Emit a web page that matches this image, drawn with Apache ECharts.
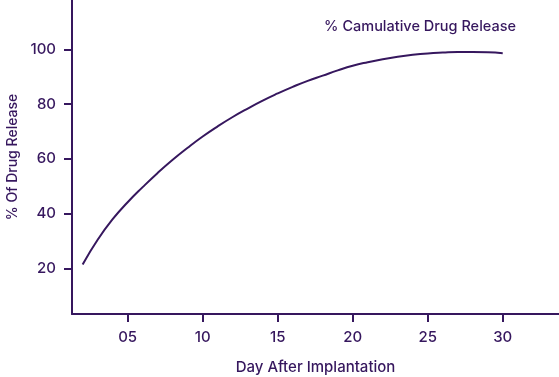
<!DOCTYPE html>
<html>
<head>
<meta charset="utf-8">
<script src="https://cdn.jsdelivr.net/npm/echarts@6/dist/echarts.min.js"></script>
<style>
  html, body { margin: 0; padding: 0; background: #fff; }
  #chart { width: 559px; height: 377px; }
</style>
</head>
<body>
<div id="chart"></div>
<script>
// days after implantation
var days = [2, 3, 4, 5, 6, 7, 8, 9, 10, 11, 12, 13, 14, 15, 16,
  17, 18, 19, 20, 21, 22, 23, 24, 25, 26, 27, 28, 29, 30];
// % cumulative drug release
var release = [21.5, 30.5, 38.0, 44.2, 49.7, 54.9, 59.7, 64.1, 68.2, 71.9, 75.3, 78.4, 81.3, 83.9, 86.3,
  88.5, 90.4, 92.3, 94.0, 95.3, 96.4, 97.3, 98.0, 98.5, 98.8, 99.0, 99.0, 98.9, 98.6];
var xTicks = [5, 10, 15, 20, 25, 30];
var yTicks = [20, 40, 60, 80, 100];

var purple = "#36175e";
var font = "Inter";

var chartDom = document.getElementById("chart");
var myChart = echarts.init(chartDom);
var option;

option = {
  animation: false,
  textStyle: { fontFamily: font },
  legend: {
    data: ["% Camulative Drug Release"],
    icon: "none",
    itemWidth: 0,
    right: 38,
    top: 14,
    textStyle: { color: purple, fontSize: 14.5, fontWeight: 500, fontFamily: font },
  },
  grid: {
    left: 72,
    right: 0,
    top: 0,
    bottom: 63,
    containLabel: false,
    outerBoundsMode: "none",
  },
  xAxis: {
    type: "value",
    min: 1.29,
    max: 33.75,
    name: "Day After Implantation",
    nameLocation: "middle",
    nameGap: 46,
    nameTextStyle: { color: purple, fontSize: 15, fontWeight: 500, fontFamily: font },
    axisLine: { lineStyle: { color: purple, width: 2 } },
    axisTick: { show: true, customValues: xTicks, length: 8, lineStyle: { color: purple, width: 2 } },
    axisLabel: {
      customValues: xTicks,
      margin: 16,
      color: purple,
      fontSize: 15,
      fontWeight: 500,
      formatter: function (v) {
        return v < 10 ? "0" + v : String(v);
      },
    },
    splitLine: { show: false },
  },
  yAxis: {
    type: "value",
    min: 3.4,
    max: 118,
    name: "% Of Drug Release",
    nameLocation: "middle",
    nameRotate: 90,
    nameGap: 52,
    nameTextStyle: { color: purple, fontSize: 14, fontWeight: 500, fontFamily: font },
    axisLine: { show: true, lineStyle: { color: purple, width: 2 } },
    axisTick: { show: true, customValues: yTicks, length: 8, lineStyle: { color: purple, width: 2 } },
    axisLabel: { customValues: yTicks, margin: 16, color: purple, fontSize: 15, fontWeight: 500 },
    splitLine: { show: false },
  },
  series: [
    {
      name: "% Camulative Drug Release",
      type: "line",
      smooth: true,
      showSymbol: false,
      data: days.map(function (d, i) {
        return [d, release[i]];
      }),
      lineStyle: { color: purple, width: 2 },
      itemStyle: { color: purple },
    },
  ],
};

option && myChart.setOption(option);
</script>
</body>
</html>
